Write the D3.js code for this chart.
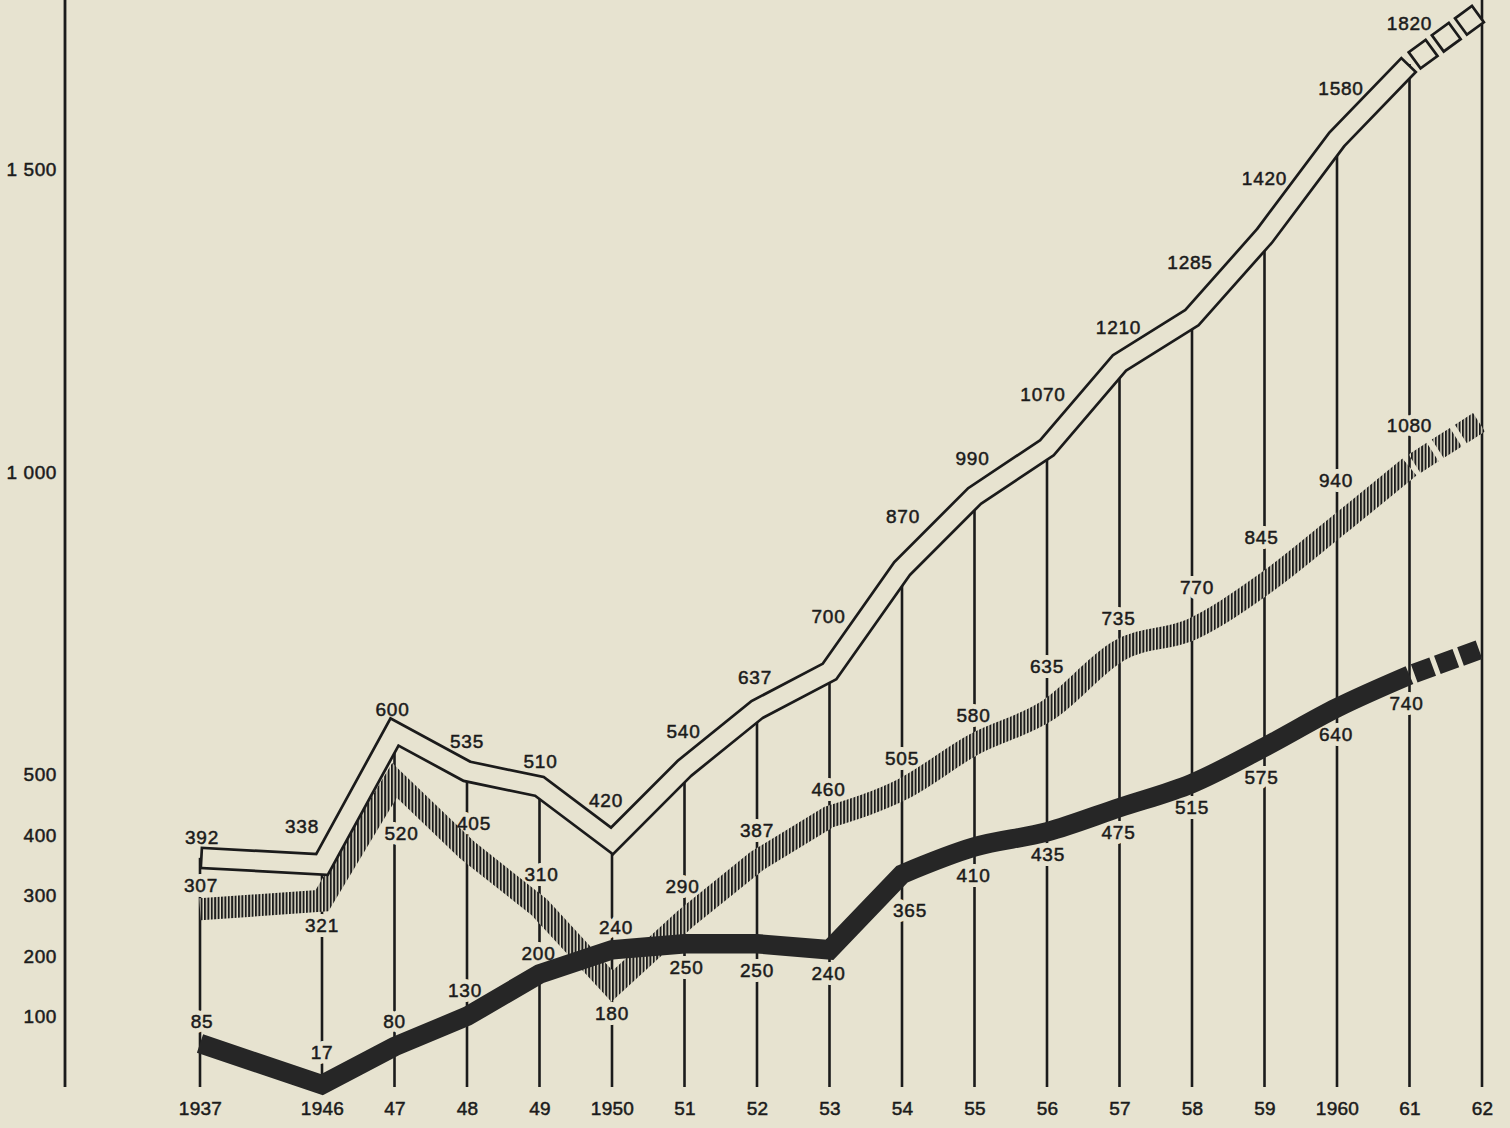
<!DOCTYPE html>
<html>
<head>
<meta charset="utf-8">
<script src="https://cdn.jsdelivr.net/npm/d3@7"></script>
<style>
  html, body { margin: 0; padding: 0; background: #e7e3d0; }
  svg { display: block; }
  text { font-family: "Liberation Sans", Arial, Helvetica, sans-serif; fill: #1b1b1b; }
</style>
</head>
<body>
<div id="chart"></div>
<script>
// years shown on the bottom scale (1937 then 1946..1962)
const years = [1937, 1946, 1947, 1948, 1949, 1950, 1951, 1952, 1953, 1954, 1955, 1956, 1957, 1958, 1959, 1960, 1961];
const tickYears = [...years, 1962];
const yearLabels = ["1937", "1946", "47", "48", "49", "1950", "51", "52", "53", "54", "55", "56", "57", "58", "59", "1960", "61", "62"];

// printed figures, one per year
const totalValues   = [392, 338, 600, 535, 510, 420, 540, 637, 700, 870, 990, 1070, 1210, 1285, 1420, 1580, 1820];
const hatchedValues = [307, 321, 520, 405, 310, 180, 290, 387, 460, 505, 580, 635, 735, 770, 845, 940, 1080];
const blackValues   = [85, 17, 80, 130, 200, 240, 250, 250, 240, 365, 410, 435, 475, 515, 575, 640, 740];

// the original draws its 1961 column short of the printed figures
const drawn1961 = { total: 1704, hatched: 1038, black: 694 };
// 1962 projection (the three blocks)
const projected1962 = { total: 1788, hatched: 1112, black: 736 };

const axisTicks = [100, 200, 300, 400, 500, 1000, 1500];

// label placement relative to each band point [dx, dy]
const whiteLabelShift = [[2,-20],[-20,-38],[-2,-23],[0,-30],[1,-25],[-6,-41],[-1,-37],[-2,-32],[-1,-55],[1,-52],[-2,-38],[-4,-53],[-1,-36],[-2,-55],[0,-58],[4,-51],[0,-41]];
const hatchedLabelShift = [[1,-24],[0,25],[7,53],[7,-27],[2,-33],[0,27],[-2,-33],[0,-31],[-1,-27],[0,-31],[-1,-29],[0,-44],[-1,-32],[5,-42],[-3,-46],[-1,-46],[0,-42]];
const blackLabelShift = [[2,-22],[0,-32],[0,-25],[-2,-26],[-1,-21],[4,-22],[2,24],[0,27],[-1,24],[8,36],[-1,28],[1,23],[-1,25],[0,24],[-3,30],[-1,27],[-3,28]];

const W = 1510, H = 1128;
const bg = "#e7e3d0", ink = "#1b1b1b", solid = "#262626";

const svg = d3.select("#chart").append("svg")
  .attr("width", W)
  .attr("height", H);

svg.append("rect").attr("width", W).attr("height", H).attr("fill", bg);

const defs = svg.append("defs");
const hatch = defs.append("pattern")
  .attr("id", "hatch")
  .attr("patternUnits", "userSpaceOnUse")
  .attr("width", 3.4)
  .attr("height", 10);
hatch.append("rect").attr("width", 3.4).attr("height", 10).attr("fill", bg);
hatch.append("rect").attr("width", 2).attr("height", 10).attr("fill", "#1c1c1c");

// scales: 1937 sits apart from the yearly run 1946..1962
const x = d3.scaleLinear().domain([1937, 1946, 1962]).range([200, 322, 1482]);
const y = d3.scaleLinear().domain([0, 1800]).range([1095, 6]);
const baseY = 1087;

// plotted values (white band kept clear of the hatched one, as in the original)
const last = years.length - 1;
const hatchedPlot = hatchedValues.map((v, i) => i === last ? drawn1961.hatched : v);
const blackPlot = blackValues.map((v, i) => i === last ? drawn1961.black : v);
const totalPlot = totalValues.map((v, i) => i === last ? drawn1961.total : Math.max(v, hatchedPlot[i] + 60));

const pts = vals => years.map((yr, i) => ({ year: yr, v: vals[i] }));

function bandPath(points, curveFrom) {
  const xy = p => [x(p.year), y(p.v)];
  if (curveFrom == null) return d3.line()(points.map(xy));
  const early = points.filter(p => p.year <= curveFrom).map(xy);
  const late = points.filter(p => p.year >= curveFrom).map(xy);
  const a = d3.line()(early);
  const b = d3.line().curve(d3.curveMonotoneX)(late);
  return a + b.replace(/^M[^A-Z]*/, "");
}

function projPath(fromV, toV) {
  return d3.line()([[x(1961), y(fromV)], [x(1962) - 3, y(toV)]]);
}

// vertical year lines and the left axis line
svg.append("g")
  .selectAll("line")
  .data(tickYears)
  .join("line")
  .attr("x1", d => x(d))
  .attr("x2", d => x(d))
  .attr("y1", baseY)
  .attr("y2", (d, i) => i <= last ? y(totalPlot[i]) : 0)
  .attr("stroke", ink)
  .attr("stroke-width", 2.6);

svg.append("line")
  .attr("x1", 65).attr("x2", 65)
  .attr("y1", 0).attr("y2", baseY)
  .attr("stroke", ink)
  .attr("stroke-width", 2.8);

// value labels
const labelSets = [
  { vals: totalValues, plot: totalPlot, shift: whiteLabelShift },
  { vals: hatchedValues, plot: hatchedPlot, shift: hatchedLabelShift },
  { vals: blackValues, plot: blackPlot, shift: blackLabelShift }
];
const labelData = labelSets.flatMap(s => years.map((yr, i) => ({
  text: String(s.vals[i]),
  lx: x(yr) + s.shift[i][0],
  ly: y(s.plot[i]) + s.shift[i][1]
})));

// halos first, so labels break the year lines
svg.append("g")
  .selectAll("text")
  .data(labelData)
  .join("text")
  .attr("x", d => d.lx)
  .attr("y", d => d.ly)
  .attr("dy", "0.35em")
  .attr("text-anchor", "middle")
  .style("font-size", "19px")
  .style("letter-spacing", "0.8px")
  .style("fill", bg)
  .style("stroke", bg)
  .style("stroke-width", 10)
  .style("stroke-linejoin", "round")
  .text(d => d.text);

const bands = svg.append("g").attr("fill", "none").attr("stroke-linejoin", "miter").attr("stroke-miterlimit", 10);

// hatched band
bands.append("path")
  .attr("d", bandPath(pts(hatchedPlot), 1953))
  .attr("stroke", "url(#hatch)")
  .attr("stroke-width", 22);
const hp = bands.append("path")
  .attr("d", projPath(drawn1961.hatched, projected1962.hatched))
  .attr("stroke", "url(#hatch)")
  .attr("stroke-width", 22);
{
  const L = hp.node().getTotalLength(), gap = 6, dash = (L - 3 * gap) / 3;
  hp.attr("stroke-dasharray", `0 ${gap} ${dash} 0`);
}

// white (outlined) band
const wd = bandPath(pts(totalPlot));
const outer = 22.8, inner = 17.4, edge = (outer - inner) / 2;
bands.append("path").attr("d", wd).attr("stroke", ink).attr("stroke-width", outer);
const wIn = bands.append("path").attr("d", wd).attr("stroke", bg).attr("stroke-width", inner);
{
  const L = wIn.node().getTotalLength();
  wIn.attr("stroke-dasharray", `0 ${edge} ${L - 2 * edge} ${L}`);
}
const wpd = projPath(drawn1961.total, projected1962.total);
const wpo = bands.append("path").attr("d", wpd).attr("stroke", ink).attr("stroke-width", outer);
const wpi = bands.append("path").attr("d", wpd).attr("stroke", bg).attr("stroke-width", inner);
{
  const L = wpo.node().getTotalLength(), gap = 5, dash = (L - 3 * gap) / 3;
  wpo.attr("stroke-dasharray", `0 ${gap} ${dash} 0`);
  wpi.attr("stroke-dasharray", `0 ${gap + edge} ${dash - 2 * edge} ${edge}`);
}

// black band
bands.append("path")
  .attr("d", bandPath(pts(blackPlot), 1954))
  .attr("stroke", solid)
  .attr("stroke-width", 19.5);
const bp = bands.append("path")
  .attr("d", projPath(drawn1961.black, projected1962.black))
  .attr("stroke", solid)
  .attr("stroke-width", 19.5);
{
  const L = bp.node().getTotalLength(), gap = 5, dash = (L - 3 * gap) / 3;
  bp.attr("stroke-dasharray", `0 ${gap} ${dash} 0`);
}

// label text on top
svg.append("g")
  .selectAll("text")
  .data(labelData)
  .join("text")
  .attr("x", d => d.lx)
  .attr("y", d => d.ly)
  .attr("dy", "0.35em")
  .attr("text-anchor", "middle")
  .style("font-size", "19px")
  .style("letter-spacing", "0.8px")
  .style("stroke", ink)
  .style("stroke-width", 0.5)
  .text(d => d.text);

// left scale
const fr = d3.formatLocale({ decimal: ",", thousands: "\u00a0", grouping: [3], currency: ["", " F"] });
const yAxis = svg.append("g")
  .attr("transform", "translate(57,-18)")
  .call(d3.axisLeft(y).tickValues(axisTicks).tickSize(0).tickPadding(0).tickFormat(fr.format(",")));
yAxis.select(".domain").remove();
yAxis.selectAll("text")
  .style("font-size", "19px")
  .style("letter-spacing", "0.6px")
  .style("stroke", ink)
  .style("stroke-width", 0.5);

// year scale
const xAxis = svg.append("g")
  .attr("transform", `translate(0,1098)`)
  .call(d3.axisBottom(x).tickValues(tickYears).tickSize(0).tickPadding(4).tickFormat((d, i) => yearLabels[i]));
xAxis.select(".domain").remove();
xAxis.selectAll("text")
  .style("font-size", "19px")
  .style("letter-spacing", "0.3px")
  .style("stroke", ink)
  .style("stroke-width", 0.5);
</script>
</body>
</html>
